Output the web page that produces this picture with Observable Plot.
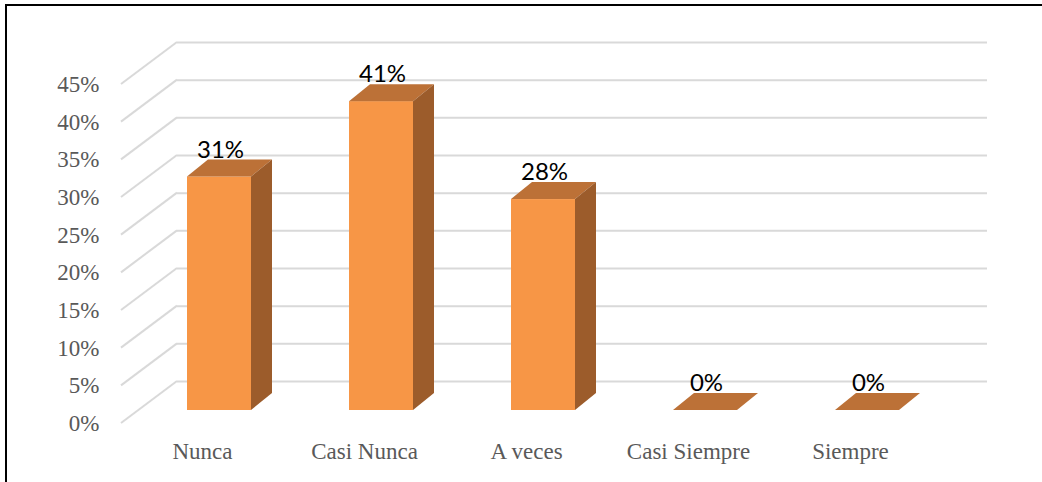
<!DOCTYPE html>
<html lang="es">
<head>
<meta charset="utf-8">
<script src="https://cdn.jsdelivr.net/npm/d3@7"></script>
<script src="https://cdn.jsdelivr.net/npm/@observablehq/plot@0.6"></script>
<style>
  html, body { margin: 0; padding: 0; background: #fff; overflow: hidden; }
  #marco { position: absolute; left: 5px; top: 4px; width: 1200px; height: 700px;
           border-left: 2px solid #000; border-top: 2px solid #000; pointer-events: none; }
  #grafico { position: absolute; left: 0; top: 0; }
</style>
</head>
<body>
<div id="grafico"></div>
<div id="marco"></div>
<script>
// Frecuencia de respuestas por categoría
const categorias = ["Nunca", "Casi Nunca", "A veces", "Casi Siempre", "Siempre"];
const porcentajes = [0.31, 0.41, 0.28, 0, 0];
const marcasY = [0, 0.05, 0.10, 0.15, 0.20, 0.25, 0.30, 0.35, 0.40, 0.45];

const datos = categorias.map((categoria, i) => ({categoria, valor: porcentajes[i]}));

// Perspectiva de la vista 3D (en píxeles)
const pared = {dx: 56, dy: -42};   // desplazamiento del plano del fondo
const plano = {dx: 17, dy: -13};   // plano donde se apoyan las columnas
const fondo = {dx: 21, dy: -17};   // profundidad de cada columna

const colores = {frente: "#F79646", tapa: "#BC7137", lado: "#9C5C2B", rejilla: "#d9d9d9"};
const serif = "'Liberation Serif', 'Times New Roman', serif";
const pct = d3.format(".0%");

// Líneas diagonales de la pared lateral izquierda
const paredLateral = (index, scales, values, dimensions) => {
  const y = scales.y;
  const x0 = dimensions.marginLeft;
  const g = d3.create("svg:g")
    .attr("stroke", colores.rejilla).attr("stroke-width", 2).attr("fill", "none");
  for (const t of marcasY) {
    g.append("line")
      .attr("x1", x0).attr("y1", y(t))
      .attr("x2", x0 + pared.dx).attr("y2", y(t) + pared.dy);
  }
  return g.node();
};

// Caras superior y lateral de cada columna
const caras = (index, scales) => {
  const x = scales.x, y = scales.y;
  const bw = x.bandwidth();
  const g = d3.create("svg:g");
  for (const d of datos) {
    const x0 = x(d.categoria) + plano.dx, x1 = x0 + bw;
    const yt = y(d.valor) + plano.dy, yb = y(0) + plano.dy;
    g.append("polygon")
      .attr("fill", colores.tapa)
      .attr("points", [[x0, yt], [x1, yt], [x1 + fondo.dx, yt + fondo.dy], [x0 + fondo.dx, yt + fondo.dy]].join(" "));
    if (d.valor > 0) {
      g.append("polygon")
        .attr("fill", colores.lado)
        .attr("points", [[x1, yt], [x1 + fondo.dx, yt + fondo.dy], [x1 + fondo.dx, yb + fondo.dy], [x1, yb]].join(" "));
    }
  }
  return g.node();
};

const chart = Plot.plot({
  width: 1042,
  height: 482,
  marginLeft: 121,
  marginRight: 111,
  marginTop: 84,
  marginBottom: 59,
  style: {fontFamily: serif, fontSize: "23px", color: "#595959", background: "transparent"},
  x: {domain: categorias, paddingInner: 0.605, paddingOuter: 0.3025, label: null},
  y: {domain: [0, 0.45], label: null},
  marks: [
    Plot.ruleY(marcasY, {y: d => d, dx: pared.dx, dy: pared.dy, stroke: colores.rejilla, strokeWidth: 2}),
    paredLateral,
    Plot.barY(datos, {x: "categoria", y: "valor", dx: plano.dx, dy: plano.dy, fill: colores.frente}),
    caras,
    Plot.axisY({ticks: marcasY, tickFormat: pct, tickSize: 0, tickPadding: 22, label: null,
                fontFamily: serif, fontSize: 23}),
    Plot.axisX({tickSize: 0, tickPadding: 19, label: null, fontFamily: serif, fontSize: 23}),
    Plot.text(datos, {
      x: "categoria", y: "valor", text: d => pct(d.valor),
      dx: plano.dx + 1, dy: plano.dy - 27, lineAnchor: "middle",
      fontFamily: "Lato, 'Liberation Sans', sans-serif", fontSize: 24, fill: "#000"
    })
  ]
});

document.getElementById("grafico").append(chart);
</script>
</body>
</html>
